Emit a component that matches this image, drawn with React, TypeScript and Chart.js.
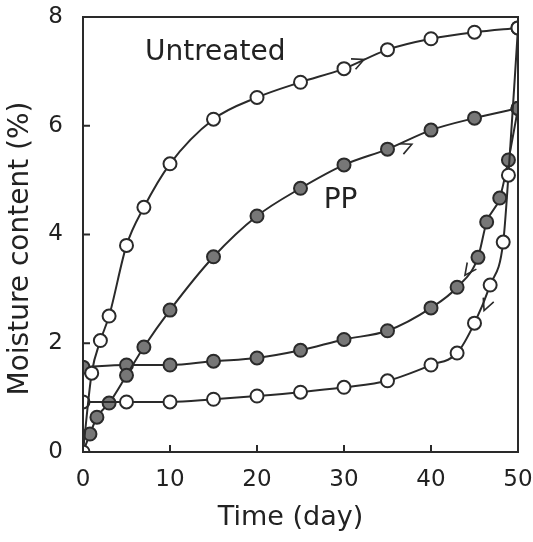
import React, { useEffect, useRef } from 'react';
import { Chart, registerables } from 'chart.js';

Chart.register(...registerables);

// ---- data ----
const untreatedSorptionX = [0, 1, 2, 3, 5, 7, 10, 15, 20, 25, 30, 35, 40, 45, 50];
const untreatedSorptionY = [0, 1.45, 2.05, 2.5, 3.8, 4.5, 5.3, 6.12, 6.52, 6.8, 7.05, 7.4, 7.6, 7.72, 7.8];

const untreatedDesorptionX = [0, 5, 10, 15, 20, 25, 30, 35, 40, 43, 45, 46.8, 48.3, 48.9, 50];
const untreatedDesorptionY = [0.92, 0.92, 0.92, 0.97, 1.03, 1.1, 1.19, 1.31, 1.6, 1.82, 2.37, 3.07, 3.86, 5.09, 7.8];

const ppSorptionX = [0, 0.8, 1.6, 3, 5, 7, 10, 15, 20, 25, 30, 35, 40, 45, 50];
const ppSorptionY = [0, 0.33, 0.64, 0.9, 1.41, 1.93, 2.61, 3.59, 4.34, 4.85, 5.28, 5.57, 5.92, 6.14, 6.32];

const ppDesorptionX = [0, 5, 10, 15, 20, 25, 30, 35, 40, 43, 45.4, 46.4, 47.9, 48.9, 50];
const ppDesorptionY = [1.56, 1.6, 1.6, 1.67, 1.73, 1.87, 2.07, 2.23, 2.65, 3.03, 3.58, 4.23, 4.67, 5.37, 6.32];

const xTickValues = [0, 10, 20, 30, 40, 50];
const yTickValues = [0, 2, 4, 6, 8];

const xTitle = 'Time (day)';
const yTitle = 'Moisture content (%)';

const annotationTexts = ['Untreated', 'PP'];
const annotationX = [15.2, 29.6];
const annotationY = [7.35, 4.63];

// arrows: tip position and direction in data units
const arrowX = [32.3, 37.8, 43.9, 46.1];
const arrowY = [7.22, 5.66, 3.25, 2.6];
const arrowDX = [1, 1, -1, -1];
const arrowDY = [0.07, 0.07, -0.22, -0.39];

const toPts = (xs: number[], ys: number[]) => xs.map((x, i) => ({ x, y: ys[i] }));

const LINE = '#2a2a2a';
const FILL = '#777777';
const FONT = "'DejaVu Sans', sans-serif";

const framePlugin = {
  id: 'frameAndExtras',
  afterDatasetsDraw(chart: any) {
    const { ctx, chartArea, scales } = chart;
    const xs = scales.x;
    const ys = scales.y;
    ctx.save();
    // frame
    ctx.strokeStyle = LINE;
    ctx.lineWidth = 2;
    ctx.strokeRect(chartArea.left, chartArea.top, chartArea.right - chartArea.left, chartArea.bottom - chartArea.top);
    // inward ticks
    const tl = 7;
    ctx.beginPath();
    xTickValues.forEach((v) => {
      if (v === 0 || v === 50) return;
      const px = xs.getPixelForValue(v);
      ctx.moveTo(px, chartArea.bottom);
      ctx.lineTo(px, chartArea.bottom - tl);
    });
    yTickValues.forEach((v) => {
      if (v === 0 || v === 8) return;
      const py = ys.getPixelForValue(v);
      ctx.moveTo(chartArea.left, py);
      ctx.lineTo(chartArea.left + tl, py);
    });
    ctx.stroke();
    // arrows
    ctx.lineWidth = 1.6;
    arrowX.forEach((ax, i) => {
      const px = xs.getPixelForValue(ax);
      const py = ys.getPixelForValue(arrowY[i]);
      const qx = xs.getPixelForValue(ax + arrowDX[i]);
      const qy = ys.getPixelForValue(arrowY[i] + arrowDY[i]);
      const ang = Math.atan2(qy - py, qx - px);
      const len = 13;
      const spread = 0.45;
      ctx.beginPath();
      ctx.moveTo(px - len * Math.cos(ang - spread), py - len * Math.sin(ang - spread));
      ctx.lineTo(px, py);
      ctx.lineTo(px - len * Math.cos(ang + spread), py - len * Math.sin(ang + spread));
      ctx.stroke();
    });
    // annotations
    ctx.fillStyle = '#222';
    ctx.font = `28px ${FONT}`;
    ctx.textAlign = 'center';
    ctx.textBaseline = 'middle';
    annotationTexts.forEach((t, i) => {
      ctx.fillText(t, xs.getPixelForValue(annotationX[i]), ys.getPixelForValue(annotationY[i]));
    });
    // axis titles
    ctx.font = `27px ${FONT}`;
    ctx.fillText(xTitle, (chartArea.left + chartArea.right) / 2 - 10, chart.height - 24);
    ctx.font = `28px ${FONT}`;
    ctx.translate(21, (chartArea.top + chartArea.bottom) / 2 + 14);
    ctx.rotate(-Math.PI / 2);
    ctx.fillText(yTitle, 0, 0);
    ctx.restore();
  },
};

export default function App() {
  const ref = useRef<HTMLCanvasElement | null>(null);
  useEffect(() => {
    if (!ref.current) return;
    const lineDs = (label: string, data: any[], filled: boolean, order: number, radius: any = 6.5) => ({
      label,
      data,
      borderColor: LINE,
      borderWidth: 2,
      backgroundColor: filled ? FILL : '#ffffff',
      pointBackgroundColor: filled ? FILL : '#ffffff',
      pointBorderColor: LINE,
      pointBorderWidth: 2,
      pointRadius: radius,
      pointHoverRadius: radius,
      tension: 0.4,
      cubicInterpolationMode: 'monotone' as const,
      fill: false,
      order,
    });
    const chart = new Chart(ref.current, {
      type: 'line',
      data: {
        datasets: [
          lineDs('Untreated sorption', toPts(untreatedSorptionX, untreatedSorptionY), false, 0),
          lineDs('Untreated desorption', toPts(untreatedDesorptionX, untreatedDesorptionY), false, 1),
          lineDs('PP sorption', toPts(ppSorptionX, ppSorptionY), true, 2, ppSorptionX.map((x) => (x === 0 ? 0 : 6.5))),
          lineDs('PP desorption', toPts(ppDesorptionX, ppDesorptionY), true, 3),
        ],
      },
      options: {
        animation: false,
        responsive: false,
        maintainAspectRatio: false,
        layout: { padding: { top: 17, right: 15, left: 0, bottom: 0 } },
        plugins: { legend: { display: false }, tooltip: { enabled: false } },
        scales: {
          x: {
            type: 'linear',
            min: 0,
            max: 50,
            grid: { display: false, drawTicks: false },
            border: { display: false },
            afterBuildTicks: (s: any) => {
              s.ticks = xTickValues.map((v) => ({ value: v }));
            },
            afterFit: (s: any) => {
              s.height = 90;
              s.paddingLeft = 0;
              s.paddingRight = 0;
            },
            ticks: { color: '#222', font: { family: FONT, size: 23 }, padding: 14, maxRotation: 0 },
            title: { display: false, text: xTitle },
          },
          y: {
            type: 'linear',
            min: 0,
            max: 8,
            grid: { display: false, drawTicks: false },
            border: { display: false },
            afterBuildTicks: (s: any) => {
              s.ticks = yTickValues.map((v) => ({ value: v }));
            },
            afterFit: (s: any) => {
              s.width = 83;
              s.paddingTop = 0;
              s.paddingBottom = 0;
            },
            ticks: { color: '#222', font: { family: FONT, size: 23 }, padding: 20 },
            title: { display: false, text: yTitle },
          },
        },
      },
      plugins: [framePlugin],
    });
    return () => chart.destroy();
  }, []);
  return (
    <div style={{ position: 'fixed', left: 0, top: 0, width: 533, height: 542, background: '#fff' }}>
      <canvas ref={ref} width={533} height={542} style={{ width: 533, height: 542 }} />
    </div>
  );
}
